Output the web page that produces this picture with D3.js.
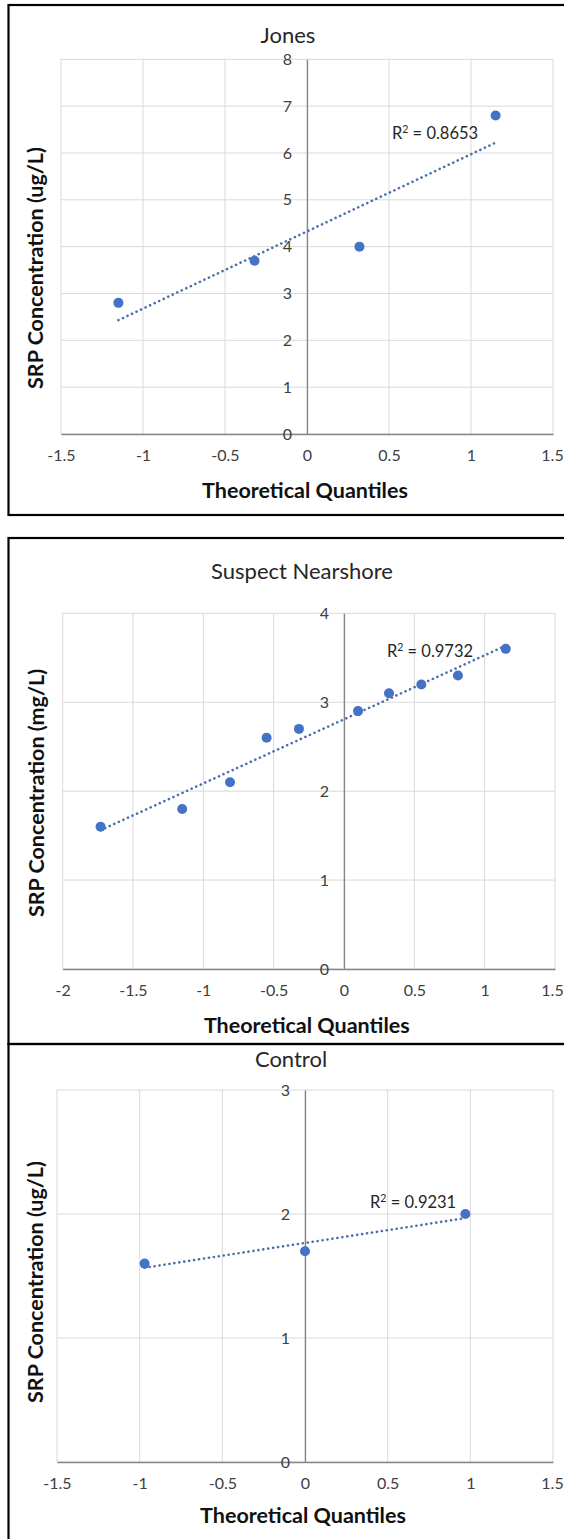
<!DOCTYPE html>
<html>
<head>
<meta charset="utf-8">
<script src="https://cdn.jsdelivr.net/npm/d3@7"></script>
<style>
  html, body { margin: 0; padding: 0; background: #fff; }
  svg { display: block; }
  text { font-family: Lato, "Open Sans", sans-serif; }
</style>
</head>
<body>
<svg id="chart" width="564" height="1539"></svg>
<script>
// ---------------- data ----------------
const panelTitles = ["Jones", "Suspect Nearshore", "Control"];
const yAxisTitles = ["SRP Concentration (ug/L)", "SRP Concentration (mg/L)", "SRP Concentration (ug/L)"];
const xAxisTitle = "Theoretical Quantiles";
const r2Values = ["0.8653", "0.9732", "0.9231"];

const jonesX = [-1.15, -0.32, 0.32, 1.15];
const jonesY = [2.8, 3.7, 4.0, 6.8];

const nearshoreX = [-1.73, -1.15, -0.81, -0.55, -0.32, 0.10, 0.32, 0.55, 0.81, 1.15];
const nearshoreY = [1.6, 1.8, 2.1, 2.6, 2.7, 2.9, 3.1, 3.2, 3.3, 3.6];

const controlX = [-0.97, 0, 0.97];
const controlY = [1.6, 1.7, 2.0];

const jonesXTicks = [-1.5, -1, -0.5, 0, 0.5, 1, 1.5];
const jonesYTicks = [0, 1, 2, 3, 4, 5, 6, 7, 8];
const nearshoreXTicks = [-2, -1.5, -1, -0.5, 0, 0.5, 1, 1.5];
const nearshoreYTicks = [0, 1, 2, 3, 4];
const controlXTicks = [-1.5, -1, -0.5, 0, 0.5, 1, 1.5];
const controlYTicks = [0, 1, 2, 3];

// ---------------- layout ----------------
const panels = [
  { xs: jonesX, ys: jonesY, xTicks: jonesXTicks, yTicks: jonesYTicks,
    box: [8.5, 5, 566, 515], plot: [61, 553, 59.3, 434],
    titleX: 288, titleY: 43, yTitleX: 35, yTitleY: 268, xTitleY: 498,
    r2At: [0.518, 6.30] },
  { xs: nearshoreX, ys: nearshoreY, xTicks: nearshoreXTicks, yTicks: nearshoreYTicks,
    box: [8.5, 538, 566, 1044], plot: [62.6, 555, 613.3, 969],
    titleX: 302, titleY: 579, yTitleX: 36, yTitleY: 793, xTitleY: 1033,
    r2At: [0.305, 3.51] },
  { xs: controlX, ys: controlY, xTicks: controlXTicks, yTicks: controlYTicks,
    box: [8.5, 1044, 566, 1560], plot: [57, 553, 1090, 1462],
    titleX: 291, titleY: 1067, yTitleX: 35, yTitleY: 1282, xTitleY: 1523,
    r2At: [0.393, 2.05] }
];

const svg = d3.select("#chart");
const gridColor = "#d9d9d9";
const axisColor = "#868686";
const tickColor = "#404040";
const markColor = "#4472C4";
const trendColor = "#4a6fae";

panels.forEach((p, i) => {
  const g = svg.append("g");
  const [px0, px1, py0, py1] = p.plot;
  const x = d3.scaleLinear().domain(d3.extent(p.xTicks)).range([px0, px1]);
  const y = d3.scaleLinear().domain(d3.extent(p.yTicks)).range([py1, py0]);

  // gridlines
  g.append("g").selectAll("line").data(p.xTicks).join("line")
    .attr("x1", d => x(d)).attr("x2", d => x(d))
    .attr("y1", py0).attr("y2", py1)
    .attr("stroke", gridColor).attr("stroke-width", 1);
  g.append("g").selectAll("line").data(p.yTicks).join("line")
    .attr("x1", px0).attr("x2", px1)
    .attr("y1", d => y(d)).attr("y2", d => y(d))
    .attr("stroke", gridColor).attr("stroke-width", 1);

  // x axis at y=0
  const xAxis = g.append("g")
    .attr("transform", `translate(0,${y(0)})`)
    .call(d3.axisBottom(x).tickValues(p.xTicks).tickSize(0).tickSizeOuter(0)
      .tickPadding(16).tickFormat(d => String(d)));
  xAxis.select(".domain").attr("stroke", axisColor).attr("stroke-width", 1.3);
  xAxis.selectAll("text").attr("font-size", 16).attr("fill", tickColor)
    .style("font-family", "Lato, sans-serif")
    .attr("dx", d => (x(d) + 12 > 564 ? (564 - 12 - x(d)) : 0));

  // y axis at x=0
  const yAxis = g.append("g")
    .attr("transform", `translate(${x(0)},0)`)
    .call(d3.axisLeft(y).tickValues(p.yTicks).tickSize(0).tickSizeOuter(0)
      .tickPadding(15).tickFormat(d => String(d)));
  yAxis.select(".domain").attr("stroke", axisColor).attr("stroke-width", 1.3);
  yAxis.selectAll("text").attr("font-size", 16).attr("fill", tickColor)
    .style("font-family", "Lato, sans-serif");

  // trendline (least-squares fit of the points)
  const mx = d3.mean(p.xs), my = d3.mean(p.ys);
  const sxy = d3.sum(p.xs, (v, k) => (v - mx) * (p.ys[k] - my));
  const sxx = d3.sum(p.xs, v => (v - mx) * (v - mx));
  const slope = sxy / sxx, icpt = my - slope * mx;
  const ext = d3.extent(p.xs);
  g.append("path")
    .datum(ext)
    .attr("d", d3.line().x(d => x(d)).y(d => y(icpt + slope * d)))
    .attr("fill", "none")
    .attr("stroke", trendColor)
    .attr("stroke-width", 2.6)
    .attr("stroke-linecap", "round")
    .attr("stroke-dasharray", "0.1 4.9");

  // points
  g.append("g").selectAll("circle").data(p.xs).join("circle")
    .attr("cx", d => x(d)).attr("cy", (d, k) => y(p.ys[k]))
    .attr("r", 5).attr("fill", markColor);

  // R² label
  const r2 = g.append("text")
    .attr("x", x(p.r2At[0])).attr("y", y(p.r2At[1]))
    .attr("font-size", 16.5).attr("fill", "#262626");
  r2.append("tspan").text("R");
  r2.append("tspan").attr("font-size", 10.5).attr("dy", -6).text("2");
  r2.append("tspan").attr("dy", 6).text(" = " + r2Values[i]);

  // panel title
  g.append("text")
    .attr("x", p.titleX).attr("y", p.titleY)
    .attr("text-anchor", "middle").attr("font-size", 22).attr("fill", "#262626")
    .text(panelTitles[i]);

  // axis titles
  g.append("text")
    .attr("x", (px0 + px1) / 2 - 2).attr("y", p.xTitleY)
    .attr("text-anchor", "middle").attr("font-size", 21.5)
    .attr("font-weight", "bold").attr("fill", "#111")
    .text(xAxisTitle);
  g.append("text")
    .attr("transform", `translate(${p.yTitleX},${p.yTitleY}) rotate(-90)`)
    .attr("text-anchor", "middle").attr("dominant-baseline", "central")
    .attr("font-size", 21.5).attr("font-weight", "bold").attr("fill", "#111")
    .text(yAxisTitles[i]);

  // panel border
  const [bx0, by0, bx1, by1] = p.box;
  g.append("rect")
    .attr("x", bx0).attr("y", by0).attr("width", bx1 - bx0).attr("height", by1 - by0)
    .attr("fill", "none").attr("stroke", "#000").attr("stroke-width", 2.2);
});
</script>
</body>
</html>
